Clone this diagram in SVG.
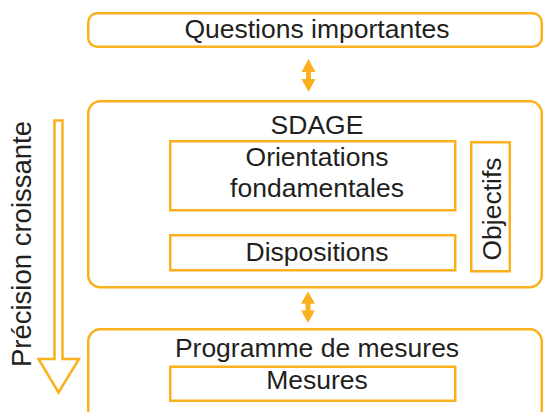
<svg xmlns="http://www.w3.org/2000/svg" width="544" height="412" viewBox="0 0 544 412">
<defs>
<style>
.box{fill:none;stroke:#FBB01E;stroke-width:2.5}
.arr{fill:#FBB01E;stroke:none}
.t{font-family:"Liberation Sans",Arial,sans-serif;font-size:26.5px;fill:#231F20;text-anchor:middle}
</style>
<path id="dbl" d="M0,0 L7,13 L2.5,13 L2.5,20 L7,20 L0,33 L-7,20 L-2.5,20 L-2.5,13 L-7,13 Z"/>
</defs>
<rect width="544" height="412" fill="#ffffff"/>
<g id="questions">
<rect class="box" x="88.25" y="13.25" width="453.5" height="33.5" rx="9"/>
<text class="t" x="317" y="38">Questions importantes</text>
</g>
<g id="sdage">
<rect class="box" x="88.25" y="101.25" width="453.5" height="186" rx="12"/>
<text class="t" x="317" y="134">SDAGE</text>
</g>
<g id="orientations">
<rect class="box" x="170.25" y="141.25" width="285" height="69"/>
<text class="t" x="317" y="166">Orientations</text>
<text class="t" x="317" y="197">fondamentales</text>
</g>
<g id="dispositions">
<rect class="box" x="170.25" y="235.25" width="285" height="35"/>
<text class="t" x="317" y="261">Dispositions</text>
</g>
<g id="objectifs">
<rect class="box" x="471.25" y="142.25" width="38.5" height="129"/>
<text class="t" transform="translate(500.5,209) rotate(-90)">Objectifs</text>
</g>
<g id="programme">
<rect class="box" x="88.25" y="329.25" width="453.5" height="100" rx="12"/>
<text class="t" x="317" y="357">Programme de mesures</text>
</g>
<g id="mesures">
<rect class="box" x="170.25" y="366.75" width="285" height="34"/>
<text class="t" x="317" y="389">Mesures</text>
</g>
<g id="precision">
<polygon class="box" points="54.5,120.5 62.5,120.5 62.5,359 79,359 58.5,392.5 38.5,359 54.5,359"/>
<text class="t" transform="translate(31,244) rotate(-90)" style="font-size:27.5px">Précision croissante</text>
</g>
<g id="connectors">
<use href="#dbl" class="arr" transform="translate(308.5,59)"/>
<use href="#dbl" class="arr" transform="translate(308,291.5) scale(1,0.95)"/>
</g>
</svg>
